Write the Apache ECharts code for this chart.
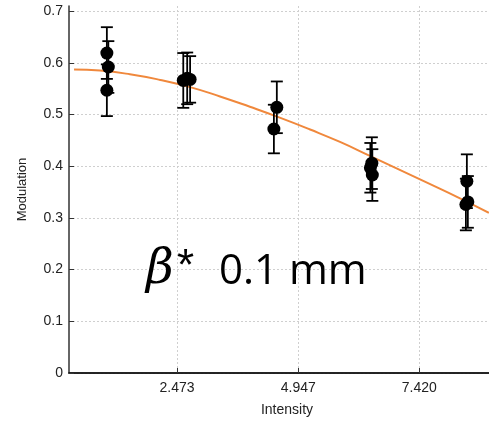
<!DOCTYPE html>
<html>
<head>
<meta charset="utf-8">
<script src="https://cdn.jsdelivr.net/npm/echarts@6/dist/echarts.min.js"></script>
<style>
html,body{margin:0;padding:0;background:#fff;}
#chart{width:489px;height:425px;}
</style>
</head>
<body>
<div id="chart"></div>
<script>
// ---- data ----
var intensity = [1.04, 1.07, 1.04, 2.60, 2.68, 2.74, 4.51, 4.45, 6.45, 6.42, 6.46, 8.39, 8.41, 8.37];
var modulation = [0.619, 0.592, 0.547, 0.566, 0.570, 0.568, 0.514, 0.472, 0.406, 0.397, 0.383, 0.371, 0.331, 0.326];
var errors = [0.050, 0.050, 0.050, 0.053, 0.050, 0.045, 0.050, 0.047, 0.050, 0.048, 0.050, 0.052, 0.050, 0.050];
var fitX = [0.37, 0.90, 1.51, 2.13, 2.74, 3.35, 3.96, 4.57, 5.19, 5.80, 6.41, 7.02, 7.63, 8.25, 8.84];
var fitY = [0.587, 0.585, 0.578, 0.567, 0.553, 0.535, 0.515, 0.494, 0.471, 0.447, 0.420, 0.393, 0.366, 0.338, 0.310];
var xTicks = [2.473, 4.947, 7.420];
var yTicks = [0, 0.1, 0.2, 0.3, 0.4, 0.5, 0.6, 0.7];

var points = intensity.map(function (x, i) { return [x, modulation[i]]; });
var bars = intensity.map(function (x, i) { return [x, modulation[i] - errors[i], modulation[i] + errors[i]]; });
var fit = fitX.map(function (x, i) { return [x, fitY[i]]; });

var chart = echarts.init(document.getElementById('chart'), null, {renderer: 'canvas'});
var font = 'Liberation Sans';
chart.setOption({
  animation: false,
  backgroundColor: '#fff',
  grid: {left: 69, right: 0, top: 6, bottom: 52, containLabel: false},
  xAxis: [{
    type: 'value', min: 0.267, max: 8.842,
    name: 'Intensity', nameLocation: 'middle', nameGap: 30,
    nameTextStyle: {fontFamily: font, fontSize: 14, color: '#222', padding: [0, 0, 0, 16]},
    axisLine: {show: true, onZero: false, lineStyle: {color: '#333', width: 1.5}},
    axisTick: {show: true, inside: true, length: 5, customValues: xTicks, lineStyle: {color: '#333'}},
    axisLabel: {customValues: xTicks, fontFamily: font, fontSize: 14, color: '#222', margin: 8,
      formatter: function (v) { return Number(v).toFixed(3); }},
    splitLine: {show: true, lineStyle: {color: '#cfcfcf', type: [2, 2], width: 1}}
  }, {
    type: 'value', position: 'top', min: 0.267, max: 8.842,
    axisLine: {show: true, lineStyle: {color: '#111', width: 1.5}},
    axisTick: {show: false}, axisLabel: {show: false}, splitLine: {show: false}
  }],
  yAxis: {
    type: 'value', min: 0, max: 0.71, interval: 0.1,
    name: 'Modulation', nameLocation: 'middle', nameGap: 40, nameRotate: 90,
    nameTextStyle: {fontFamily: font, fontSize: 13, color: '#222'},
    axisLine: {show: true, lineStyle: {color: '#333', width: 1.5}},
    axisTick: {show: true, inside: true, length: 5, lineStyle: {color: '#333'}},
    axisLabel: {fontFamily: font, fontSize: 14, color: '#222', margin: 6,
      formatter: function (v) { return v === 0 ? '0' : v.toFixed(1); }},
    splitLine: {show: true, showMaxLine: false, lineStyle: {color: '#cfcfcf', type: [2, 2], width: 1}}
  },
  series: [{
    type: 'line', data: fit, smooth: true, symbol: 'none', z: 2,
    lineStyle: {color: '#f0883c', width: 2}
  }, {
    type: 'custom', data: bars, z: 3,
    renderItem: function (params, api) {
      var x = api.value(0), lo = api.value(1), hi = api.value(2);
      var p1 = api.coord([x, hi]), p2 = api.coord([x, lo]);
      var hw = 6, st = {stroke: '#000', lineWidth: 1.8};
      return {type: 'group', children: [
        {type: 'line', shape: {x1: p1[0], y1: p1[1], x2: p2[0], y2: p2[1]}, style: st},
        {type: 'line', shape: {x1: p1[0] - hw, y1: p1[1], x2: p1[0] + hw, y2: p1[1]}, style: st},
        {type: 'line', shape: {x1: p2[0] - hw, y1: p2[1], x2: p2[0] + hw, y2: p2[1]}, style: st}
      ]};
    }
  }, {
    type: 'scatter', data: points, symbol: 'circle', symbolSize: 13, z: 4,
    itemStyle: {color: '#000', opacity: 1}
  }],
  graphic: [{
    type: 'text', left: 146, top: 247, z: 10,
    style: {text: 'β', font: 'italic 48px "DejaVu Serif"', fill: '#000'}
  }, {
    type: 'text', left: 177, top: 246, z: 10,
    style: {text: '*', font: '44px "Liberation Sans"', fill: '#000'}
  }, {
    type: 'text', left: 219, top: 251, z: 10,
    style: {text: '0.1 mm', font: '42px "Open Sans"', fill: '#000'}
  }]
});
</script>
</body>
</html>
